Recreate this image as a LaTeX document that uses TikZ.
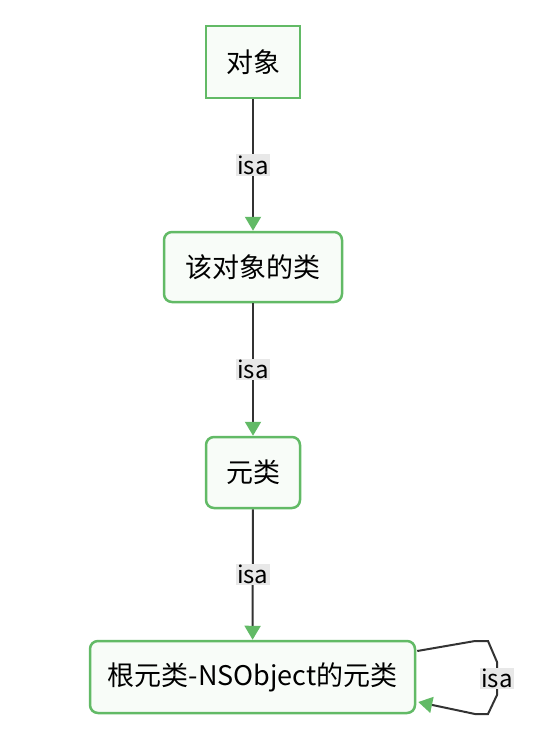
\documentclass[tikz,border=0pt]{standalone}
\usepackage{fontspec}
\setmainfont{Noto Sans CJK SC}
\usetikzlibrary{arrows.meta,calc}
\definecolor{gborder}{HTML}{62BA66}
\definecolor{gfill}{HTML}{F8FCF8}
\definecolor{lineg}{HTML}{333333}
\definecolor{lblbg}{HTML}{E8E8E8}
\tikzset{
  box/.style={draw=gborder, fill=gfill, line width=2.5pt, inner sep=0pt, font=\fontsize{27}{32}\selectfont},
  rbox/.style={box, rounded corners=8pt},
  conn/.style={draw=lineg, line width=2pt, -{Triangle[length=14pt,width=16pt,color=gborder]}},
  lbl/.style={fill=lblbg, inner sep=1.5pt, font=\fontsize{24}{28}\selectfont, text=black},
}
\begin{document}
\begin{tikzpicture}[x=1pt,y=-1pt]
\useasboundingbox (0,0) rectangle (556,748);
\node[box, minimum width=94pt, minimum height=72pt] (obj) at (253,62) {对象};
\node[rbox, minimum width=178pt, minimum height=70pt] (cls) at (253,267) {该对象的类};
\node[rbox, minimum width=94pt, minimum height=71pt] (meta) at (253,472.5) {元类};
\node[rbox, minimum width=325pt, minimum height=72pt] (root) at (252.5,677) {根元类-NSObject的元类};
\draw[conn] (obj) -- node[lbl] {isa} (cls);
\draw[conn] (cls) -- node[lbl] {isa} (meta);
\draw[conn] (meta) -- node[lbl] {isa} (root);
\coordinate (p1) at (475,641);
\coordinate (p2) at (488,641);
\coordinate (p3) at (497,662);
\coordinate (p4) at (497,695);
\coordinate (p5) at (488,714);
\coordinate (p6) at (475,714);
\draw[conn] ($(root.east)+(1,-26)$) -- (p1) -- (p2) -- (p3) -- node[lbl] {isa} (p4) -- (p5) -- (p6) -- ($(root.east)+(2,25)$);
\end{tikzpicture}
\end{document}
